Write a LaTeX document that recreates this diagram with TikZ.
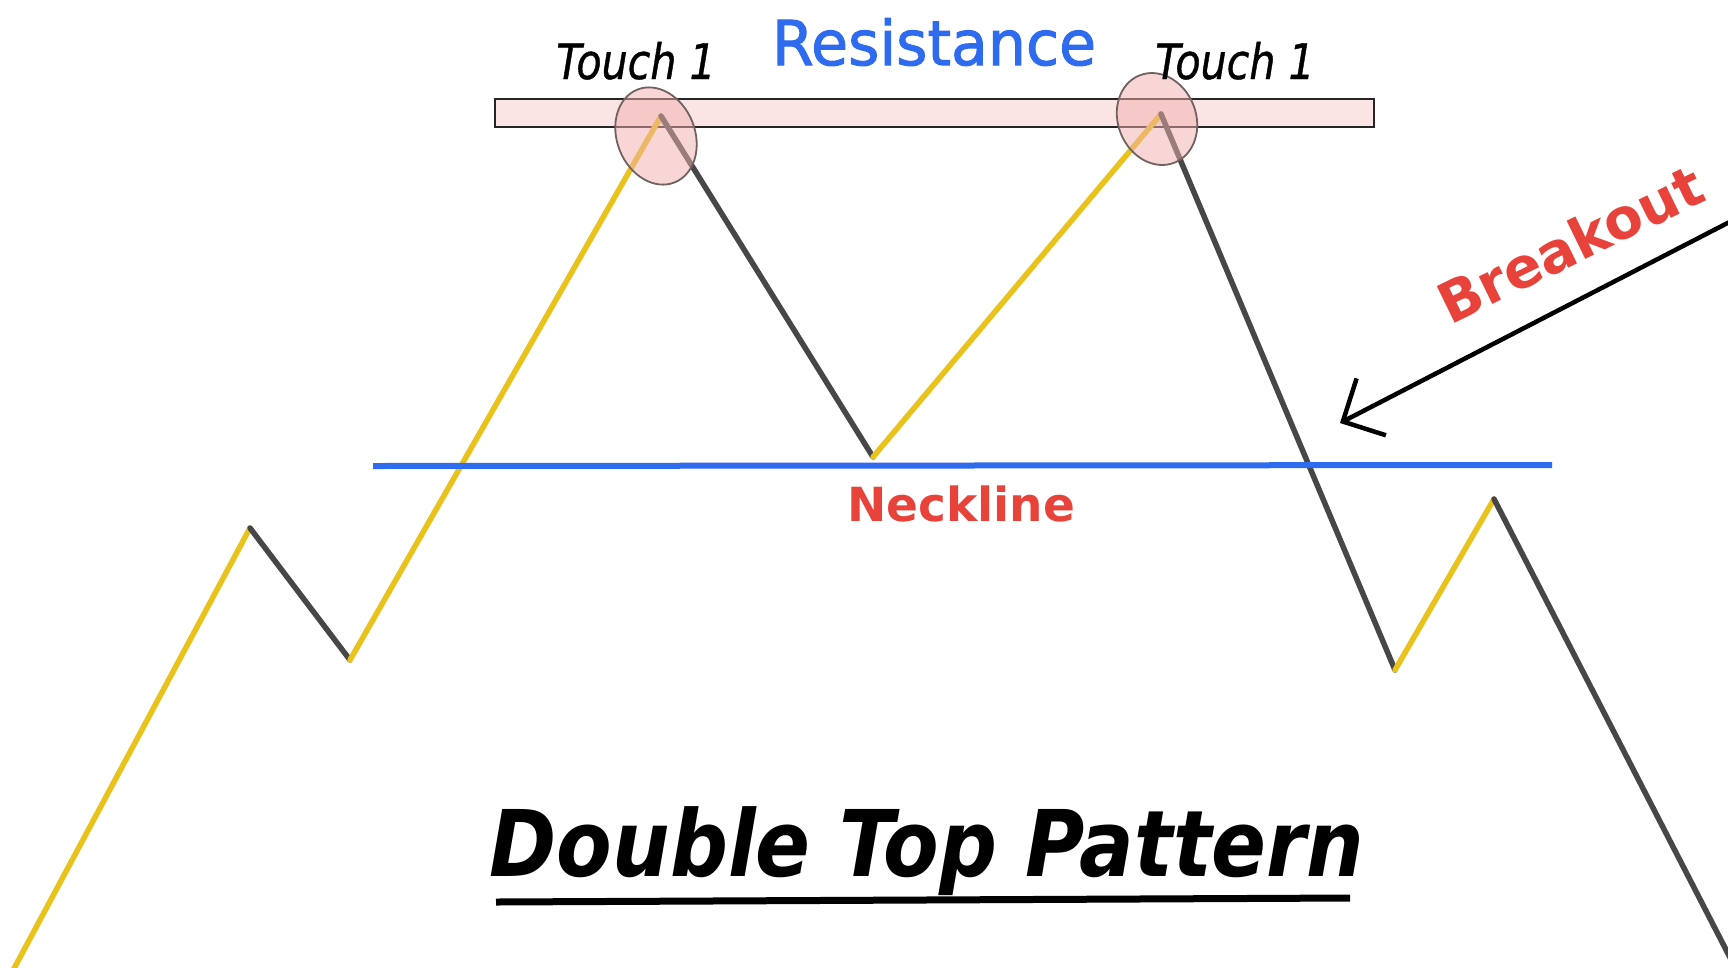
\documentclass[tikz,border=0pt]{standalone}
\usepackage{fontspec}
\setmainfont{DejaVu Sans}
\newfontfamily\touchfont[FakeStretch=0.84,FakeBold=0.8]{DejaVu Sans}
\newfontfamily\titlefont[FakeStretch=0.88]{DejaVu Sans}
\newfontfamily\resfont[FakeBold=1.6,FakeStretch=0.97]{DejaVu Sans}
\usetikzlibrary{arrows.meta,shapes.geometric}
\definecolor{upc}{HTML}{E9C21C}
\definecolor{downc}{HTML}{474747}
\definecolor{resblue}{HTML}{2F6BEF}
\definecolor{lblred}{HTML}{E8433A}
\definecolor{pinkfill}{HTML}{FBE4E4}
\definecolor{ellfill}{HTML}{F2AFAF}
\tikzset{
  upleg/.style={draw=upc,line width=5.5pt,line cap=round,line join=round},
  downleg/.style={draw=downc,line width=5.5pt,line cap=round,line join=round},
  touchell/.style={shape=ellipse,draw=downc!75!ellfill,line width=1.8pt,fill=ellfill,fill opacity=0.5,inner sep=0pt,minimum width=78pt,minimum height=100pt,rotate=22},
  touchlbl/.style={font=\touchfont\itshape\fontsize{49}{55}\selectfont,text=black,inner sep=0pt},
}
\begin{document}
\begin{tikzpicture}[x=1pt,y=-1pt]
\useasboundingbox[fill=white] (0,0) rectangle (1728,967);
% resistance zone
\node[draw=black!85,line width=2pt,fill=pinkfill,minimum width=879pt,minimum height=28pt,inner sep=0pt] (zone) at (934.5,113) {};
% price path
\coordinate (p0) at (10,976);
\coordinate (p1) at (250,528);
\coordinate (p2) at (350,660);
\coordinate (p3) at (661,116);
\coordinate (p4) at (873,457);
\coordinate (p5) at (1161,114);
\coordinate (p6) at (1395,670);
\coordinate (p7) at (1494,499);
\coordinate (p8) at (1739,975);
\draw[upleg] (p0) -- (p1);
\draw[downleg] (p1) -- (p2);
\draw[upleg] (p2) -- (p3);
\draw[downleg] (p3) -- (p4);
\draw[upleg] (p4) -- (p5);
\draw[downleg] (p5) -- (p6);
\draw[upleg] (p6) -- (p7);
\draw[downleg] (p7) -- (p8);
% neckline
\coordinate (nl) at (373,466);
\coordinate (nr) at (1552,465);
\draw[resblue,line width=6pt] (nl) -- (nr);
% touch ellipses
\node[touchell] (e1) at (656,136) {};
\node[touchell,minimum height=94pt] (e2) at (1157,119) {};
% labels
\node[font=\resfont\fontsize{62}{70}\selectfont,text=resblue,inner sep=0pt] (res) at (934,42) {Resistance};
\node[touchlbl,anchor=base] (t1) at (636,79) {Touch 1};
\node[touchlbl,anchor=base] (t2) at (1235,79) {Touch 1};
\node[font=\bfseries\fontsize{47}{55}\selectfont,text=lblred,inner sep=0pt,anchor=base] (neck) at (961,521) {Neckline};
\node[font=\bfseries\fontsize{56}{62}\selectfont,text=lblred,inner sep=0pt,rotate=26] (brk) at (1570,244) {Breakout};
% breakout arrow
\coordinate (as) at (1745,214);
\coordinate (at) at (1340,423);
\draw[line width=4.5pt,-{Straight Barb[length=32pt,width=64pt,line width=4.5pt]}] (as) -- (at);
% title
\node[font=\titlefont\bfseries\itshape\fontsize{92}{100}\selectfont,text=black,inner sep=0pt,anchor=base] (title) at (927,876) {Double Top Pattern};
\coordinate (ul) at (496,902);
\coordinate (ur) at (1350,898);
\draw[line width=7pt] (ul) -- (ur);
\end{tikzpicture}
\end{document}
